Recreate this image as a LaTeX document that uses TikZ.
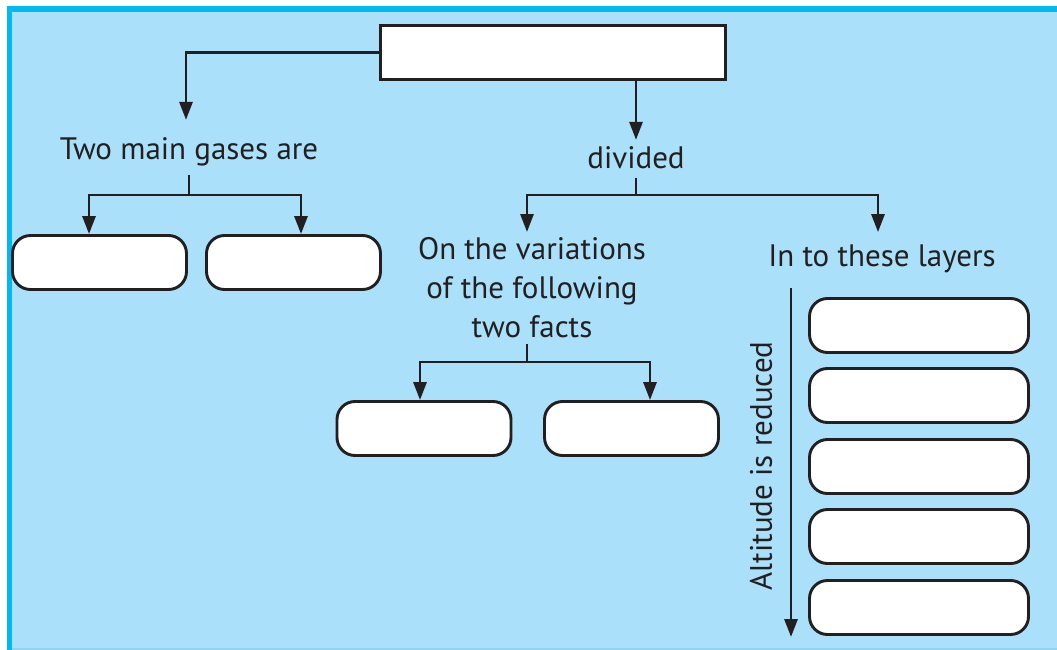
\documentclass[tikz,border=0pt]{standalone}
\usepackage{fontspec}
\setmainfont{PT Sans}
\usetikzlibrary{arrows.meta}
\definecolor{skyfill}{HTML}{AAE0F9}
\definecolor{frameblue}{HTML}{00B9EF}
\definecolor{rimblue}{HTML}{8FD4F3}
\definecolor{ink}{HTML}{231F20}
\begin{document}
\begin{tikzpicture}[x=1pt,y=-1pt,
  line/.style={draw=ink,line width=2.9pt},
  arr/.style={line,-{Triangle[length=18pt,width=13pt]}},
  sqbox/.style={draw=ink,line width=2.9pt,fill=white,inner sep=0pt},
  pill/.style={draw=ink,line width=2.9pt,fill=white,rounded corners=18pt,
    minimum width=174pt,minimum height=54pt,inner sep=0pt},
  lbl/.style={text=ink,inner sep=0pt,align=center,
    font=\fontsize{31}{39}\selectfont}]
  % page, frame and panel
  \useasboundingbox (0,0) rectangle (1057,650);
  \fill[white] (0,0) rectangle (1057,650);
  \fill[frameblue] (7,6) rectangle (1057,650);
  \fill[skyfill] (12,12) rectangle (1057,648);
  \fill[rimblue] (12,648) rectangle (1057,650);

  % title box
  \node[sqbox,minimum width=345pt,minimum height=54pt] (top) at (553,52.5) {};

  % labels
  \node[lbl,anchor=base] (gas) at (189,159) {Two main gases are};
  \node[lbl,anchor=base] (div) at (636,168) {divided};
  \node[lbl,anchor=north] (facts) at (532,237) {On the variations\\of the following\\two facts};
  \node[lbl,anchor=base] (lay) at (882,266) {In to these layers};
  \node[lbl,rotate=90] (alt) at (761,466) {Altitude is reduced};

  % gases
  \node[pill] (g1) at (99.5,262.5) {};
  \node[pill] (g2) at (293.5,262.5) {};
  % two facts
  \node[pill] (f1) at (424,428.5) {};
  \node[pill] (f2) at (631.5,428.5) {};
  % layers
  \node[pill,minimum width=219pt] (l1) at (919,325.5) {};
  \node[pill,minimum width=219pt] (l2) at (919,395.5) {};
  \node[pill,minimum width=219pt] (l3) at (919,466.5) {};
  \node[pill,minimum width=219pt] (l4) at (919,536.5) {};
  \node[pill,minimum width=219pt] (l5) at (919,607.5) {};

  % branch points
  \coordinate (gbar) at (189,195);
  \coordinate (dbar) at (636,195);
  \coordinate (fbar) at (527,362);
  \coordinate (altA) at (791,288);
  \coordinate (altB) at (791,637);

  % connectors
  \draw[arr,shorten >=17pt] (top.west) -| ([xshift=-3pt]gas.north);
  \draw[arr,shorten >=6pt] (top.south -| div.north) -- (div.north);

  \draw[line,shorten <=9pt] (gas.south) -- (gbar);
  \draw[arr] (gbar) -| ([xshift=-10.5pt]g1.north);
  \draw[arr] (gbar) -| ([xshift=7.5pt]g2.north);

  \draw[line,shorten <=9pt] (div.south) -- (dbar);
  \draw[arr,shorten >=5pt] (dbar) -| ([xshift=-5pt]facts.north);
  \draw[arr,shorten >=12pt] (dbar) -| ([xshift=-4pt]lay.north);

  \draw[line,shorten <=6pt] ([xshift=-5pt]facts.south) -- (fbar);
  \draw[arr] (fbar) -| ([xshift=-4pt]f1.north);
  \draw[arr] (fbar) -| ([xshift=18.5pt]f2.north);

  \draw[arr] (altA) -- (altB);
\end{tikzpicture}
\end{document}
